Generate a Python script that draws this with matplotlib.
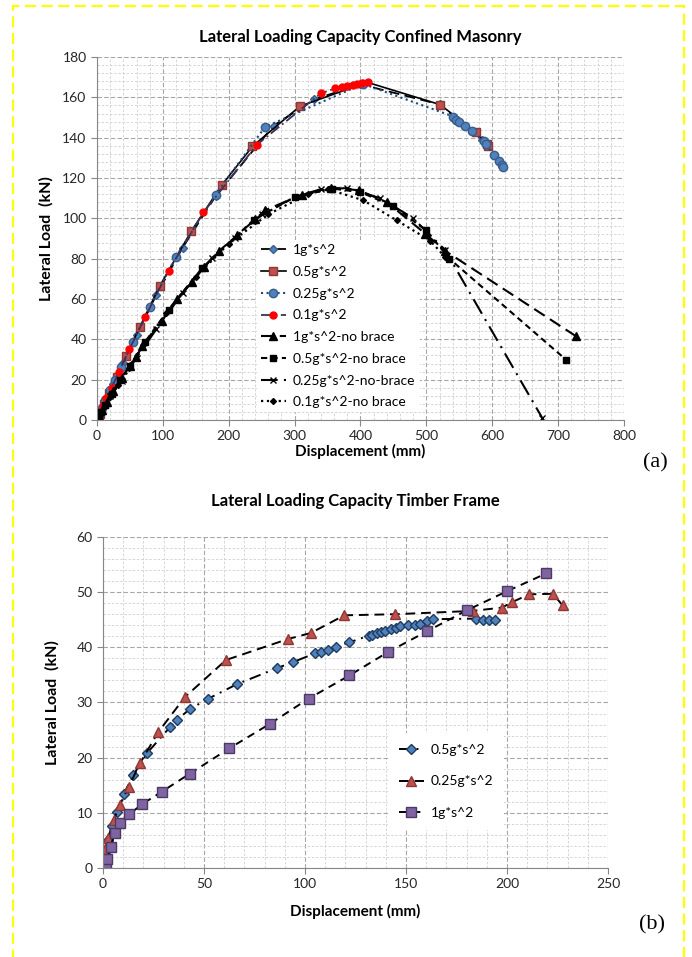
import matplotlib

matplotlib.use("Agg")
import matplotlib.pyplot as plt
from matplotlib.patches import Rectangle
from matplotlib.ticker import MultipleLocator

plt.rcParams["font.family"] = ["Lato", "DejaVu Sans"]

# ---- (a) confined masonry ----
x_1g = [0, 3, 8, 15, 25, 40, 60, 90, 130, 180, 268, 330, 400, 520, 585]
y_1g = [0, 2.5, 6, 11, 18, 28.5, 42, 62, 85.5, 111, 146, 159, 166.5, 156.5, 139]
x_05g = [0, 4, 10, 18, 30, 44, 64.6, 95, 143, 189, 236, 308, 410, 521, 575, 592, 594]
y_05g = [0, 3, 8, 13.5, 21.5, 31.7, 45.9, 66.3, 93.6, 116.3, 135.7, 155.6, 167.5, 156.4, 142.6, 137, 135.8]
x_025g = [0, 3, 7, 12, 20, 28, 36.9, 54.5, 79.8, 119.7, 180, 255, 404, 541, 545, 550,
          559, 569, 588, 590, 602, 609.6, 614.7, 617]
y_025g = [0, 2.5, 6, 10, 15, 20, 26.4, 38.8, 56.1, 80.9, 111.8, 145.3, 166.7, 150.5, 149, 147.7,
          145.9, 143.2, 138.3, 137, 131.5, 128.4, 126.7, 125.4]
x_01g = [0, 2, 5, 9, 14, 22, 33, 49, 73, 108.6, 161.6, 243, 340, 362, 372, 380, 388, 395, 403, 412]
y_01g = [0, 1.5, 4, 7, 11, 16, 23.6, 35, 51, 74, 103, 136.6, 162, 164.5, 165.2, 165.8, 166.2, 166.5, 167, 167.5]

x_1g_nb = [0, 3, 8, 15, 25, 38, 50, 59.6, 69, 98.5, 121, 144, 162.6, 185, 213, 240, 255,
           310.6, 355, 398, 440, 498.5, 528, 727]
y_1g_nb = [0, 2, 5, 9, 14.5, 21, 27, 31.5, 36.5, 49, 60, 68.5, 75.9, 83.8, 91.6, 99.5, 104,
           111.7, 115.3, 113.9, 108, 92.4, 84, 41.6]
x_05g_nb = [0, 2, 6, 12, 22, 35, 50, 73, 108.6, 160, 238, 300, 357, 400, 450, 500, 535, 711.7]
y_05g_nb = [0, 1.2, 3.8, 7.5, 13, 20, 27, 38.8, 54.8, 75.5, 99.3, 110.5, 114.8, 113, 106, 94, 80, 30]
x_025g_nb = [0, 5, 12, 20, 37.9, 60, 90, 130, 175, 210, 250, 300, 340, 380, 430, 479, 528, 675.6]
y_025g_nb = [0, 3, 7.5, 12, 19.5, 31, 45, 63, 80.5, 90.5, 102, 110.5, 114.5, 115, 110, 100.3, 84.5, 1.2]
x_01g_nb = [0, 2, 6, 12, 20, 32, 48, 70, 105, 150, 200, 260, 320, 350, 404, 455, 505.6, 528]
y_01g_nb = [0, 1, 3.5, 7, 11.5, 17.5, 26, 37, 53, 71, 87.5, 102, 112, 114.5, 109, 99, 89, 81]

# ---- (b) timber frame ----
xb_05g = [0, 0.5, 1.5, 2.5, 4.6, 7, 10.3, 14.9, 22, 33.1, 36.8, 43, 52.2, 66.2, 86, 93.9, 105,
          108, 111.4, 115.4, 122, 131.5, 133.4, 135.9, 137.6, 139.7, 142.5, 145, 147.2, 151.2,
          154.3, 157, 160.3, 163.6, 184.8, 188, 191, 194.2]
yb_05g = [0, 1.5, 3, 5, 7.7, 10.2, 13.4, 16.8, 20.9, 25.5, 26.9, 28.8, 30.7, 33.3, 36.2, 37.3, 38.9,
          39.2, 39.5, 40.1, 40.9, 42.1, 42.3, 42.6, 42.7, 42.9, 43.3, 43.5, 43.8, 44.0,
          44.1, 44.2, 44.7, 45.1, 45.2, 45.0, 45.0, 44.9]
xb_025g = [0, 0.3, 1.2, 2.5, 5.3, 8.3, 12.7, 18.5, 27.3, 40.6, 60.9, 91.6, 102.9, 119.5, 144.7,
           183.1, 197.5, 202.6, 210.9, 222.8, 227.5]
yb_025g = [0, 1.4, 3.5, 5.4, 8.7, 11.4, 14.7, 19.1, 24.6, 31.0, 37.7, 41.5, 42.6, 45.8, 46.0,
           46.6, 47.2, 48.2, 49.6, 49.7, 47.6]
xb_1g = [0.3, 1.7, 2.2, 3.8, 5.8, 8.3, 12.9, 19.5, 29, 43, 62.6, 82.5, 101.8, 122, 140.9,
         160.4, 180.1, 200.2, 219.5]
yb_1g = [0, 0, 1.6, 3.8, 6.4, 8.1, 9.7, 11.6, 13.8, 17.1, 21.7, 26.1, 30.7, 34.9, 39.1,
         42.9, 46.7, 50.2, 53.4]


def style_axes(ax, xmaj, xmin, ymaj, ymin):
    ax.xaxis.set_major_locator(MultipleLocator(xmaj))
    ax.xaxis.set_minor_locator(MultipleLocator(xmin))
    ax.yaxis.set_major_locator(MultipleLocator(ymaj))
    ax.yaxis.set_minor_locator(MultipleLocator(ymin))
    ax.grid(True, which="major", color="#A6A6A6", ls=(0, (4, 2)), lw=0.8)
    ax.grid(True, which="minor", color="#D0D0D0", ls=(0, (3, 2)), lw=0.6)
    ax.set_axisbelow(True)
    for s in ("top", "right"):
        ax.spines[s].set_visible(False)
    for s in ("left", "bottom"):
        ax.spines[s].set_color("#868686")
    ax.tick_params(which="major", length=4, color="#868686", labelsize=10, labelcolor="#262626")
    ax.tick_params(which="minor", length=0)


fig = plt.figure(figsize=(6.92, 9.57), dpi=100)

# (a)
ax = fig.add_axes([0.1402, 0.5611, 0.7615, 0.3793])
ax.plot(x_1g, y_1g, ls=(0, (6, 3)), color="black", lw=1.3, marker="D", ms=4.5,
        mfc="#4F81BD", mec="#385D8A", label="1g*s^2")
ax.plot(x_05g, y_05g, ls="-", color="black", lw=1.2, marker="s", ms=6,
        mfc="#C0504D", mec="#8C3836", label="0.5g*s^2", markevery=[i for i in range(len(x_05g)) if i != 12])
ax.plot(x_025g, y_025g, ls=":", color="#1F497D", lw=1.5, marker="o", ms=6,
        mfc="#4F81BD", mec="#385D8A", label="0.25g*s^2")
ax.plot(x_01g, y_01g, ls=(0, (6, 2, 1, 2)), color="#403152", lw=1.3, marker="o", ms=5,
        mfc="#FF0000", mec="#FF0000", label="0.1g*s^2")
ax.plot(x_1g_nb, y_1g_nb, ls=(0, (6, 3)), color="black", lw=1.5, marker="^", ms=5.5,
        mfc="black", mec="black", label="1g*s^2-no brace")
ax.plot(x_05g_nb, y_05g_nb, ls=(0, (3, 2)), color="black", lw=1.5, marker="s", ms=5,
        mfc="black", mec="black", label="0.5g*s^2-no brace")
ax.plot(x_025g_nb, y_025g_nb, ls=(0, (8, 3, 1, 3)), color="black", lw=1.5, marker="x", ms=5,
        mfc="black", mec="black", label="0.25g*s^2-no-brace")
ax.plot(x_01g_nb, y_01g_nb, ls=":", color="black", lw=1.6, marker="D", ms=3,
        mfc="black", mec="black", label="0.1g*s^2-no brace")
ax.set_xlim(0, 800)
ax.set_ylim(0, 180)
style_axes(ax, 100, 20, 20, 4)
ax.set_title("Lateral Loading Capacity Confined Masonry", fontsize=12, fontweight="bold", pad=11)
ax.set_xlabel("Displacement (mm)", fontsize=11, fontweight="bold", labelpad=1)
ax.set_ylabel("Lateral Load  (kN)", fontsize=11.5, fontweight="bold", labelpad=6)
ax.legend(loc="upper left", bbox_to_anchor=(0.29, 0.515), fontsize=10, frameon=True,
          fancybox=False, edgecolor="none", facecolor="white", framealpha=1,
          handlelength=1.8, handletextpad=0.5, labelspacing=0.7, borderpad=0.3)

# (b)
bx = fig.add_axes([0.1488, 0.0930, 0.7298, 0.3459])
bx.plot(xb_05g, yb_05g, ls=(0, (6, 3, 1, 3)), color="black", lw=1.4, marker="D", ms=5,
        mfc="#4F81BD", mec="#1F3A5F", label="0.5g*s^2")
bx.plot(xb_025g, yb_025g, ls=(0, (5, 3)), color="black", lw=1.4, marker="^", ms=7,
        mfc="#C0504D", mec="#8C3836", label="0.25g*s^2")
bx.plot(xb_1g, yb_1g, ls=(0, (4, 3)), color="black", lw=1.4, marker="s", ms=7,
        mfc="#8064A2", mec="#4B3A63", label="1g*s^2")
bx.set_xlim(0, 250)
bx.set_ylim(0, 60)
style_axes(bx, 50, 10, 10, 2)
bx.set_title("Lateral Loading Capacity Timber Frame", fontsize=12, fontweight="bold", pad=22)
bx.set_xlabel("Displacement (mm)", fontsize=11, fontweight="bold", labelpad=10)
bx.set_ylabel("Lateral Load  (kN)", fontsize=11.5, fontweight="bold", labelpad=12)
bx.legend(loc="upper left", bbox_to_anchor=(0.55, 0.43), fontsize=10, frameon=True,
          fancybox=False, edgecolor="none", facecolor="white", framealpha=1,
          handlelength=1.8, handletextpad=0.5, labelspacing=1.42, borderpad=0.8)

fig.text(655 / 692, 1 - 463 / 957, "(a)", family="Liberation Serif", fontsize=16,
         ha="center", va="center")
fig.text(652 / 692, 1 - 925 / 957, "(b)", family="Liberation Serif", fontsize=16,
         ha="center", va="center")

border = Rectangle((13 / 692, -0.02), (684 - 13) / 692, 1 - 6 / 957 + 0.02,
                   transform=fig.transFigure, fill=False, edgecolor="#FFFF00",
                   lw=1.6, ls=(0, (5, 2.5)))
fig.add_artist(border)

fig.savefig("out.png", dpi=100)
